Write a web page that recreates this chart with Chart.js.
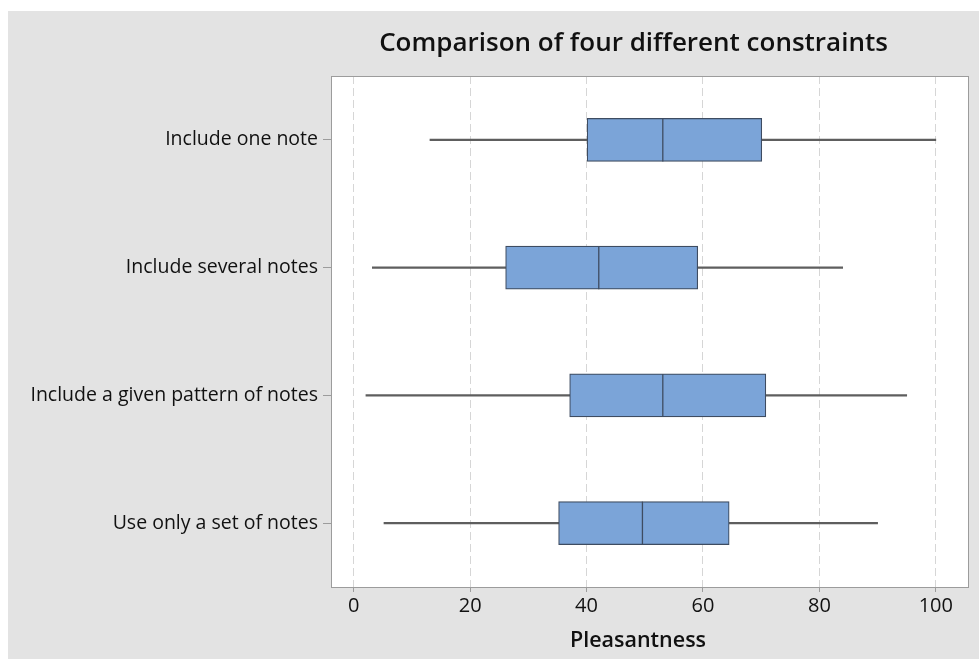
<!DOCTYPE html>
<html>
<head>
<meta charset="utf-8">
<script src="https://cdn.jsdelivr.net/npm/chart.js@4/dist/chart.umd.min.js"></script>
<style>
  html, body { margin: 0; padding: 0; background: #ffffff; width: 979px; height: 659px; overflow: hidden; }
  #frame { position: absolute; left: 8px; top: 11px; width: 971px; height: 648px; background: #e3e3e3; }
</style>
</head>
<body>
<div id="frame"><canvas id="chart"></canvas></div>
<script>
// Box-plot summaries of pleasantness ratings for each constraint
const categories = [
  'Include one note',
  'Include several notes',
  'Include a given pattern of notes',
  'Use only a set of notes'
];
const whiskerLow  = [13.1,  3.2,  2.1,  5.2];
const q1          = [40.1, 26.1, 37.1, 35.2];
const median      = [53.1, 42.1, 53.1, 49.6];
const q3          = [70.1, 59.1, 70.8, 64.5];
const whiskerHigh = [100.0, 84.0, 95.0, 90.0];
const xTicks = [0, 20, 40, 60, 80, 100];

const chartTitle = 'Comparison of four different constraints';
const axisTitle = 'Pleasantness';

const boxFill = '#7ba4d8';
const boxEdge = '#3e4c61';
const whiskerColor = '#5e5e5e';
const frameColor = '#9c9c9c';
const textColor = '#111111';
const fontFamily = '"Open Sans", "Noto Sans", sans-serif';

// White plotting region with a thin grey frame
const plotFrame = {
  id: 'plotFrame',
  beforeDraw(chart) {
    const { ctx, chartArea: a } = chart;
    ctx.save();
    ctx.fillStyle = '#ffffff';
    ctx.fillRect(a.left, a.top, a.right - a.left, a.bottom - a.top);
    ctx.restore();
  },
  afterDraw(chart) {
    const { ctx, chartArea: a } = chart;
    ctx.save();
    ctx.strokeStyle = frameColor;
    ctx.lineWidth = 1;
    ctx.strokeRect(Math.round(a.left) + 0.5, Math.round(a.top) + 0.5,
                   Math.round(a.right - a.left) - 1, Math.round(a.bottom - a.top));
    ctx.restore();
  }
};

// Median line across each box
const medianLines = {
  id: 'medianLines',
  afterDatasetsDraw(chart) {
    const { ctx } = chart;
    const xScale = chart.scales.x;
    const meta = chart.getDatasetMeta(0);
    ctx.save();
    ctx.strokeStyle = boxEdge;
    ctx.lineWidth = 1.3;
    meta.data.forEach((bar, i) => {
      const px = xScale.getPixelForValue(median[i]);
      const h = bar.height;
      ctx.beginPath();
      ctx.moveTo(px, bar.y - h / 2);
      ctx.lineTo(px, bar.y + h / 2);
      ctx.stroke();
    });
    ctx.restore();
  }
};

// Chart title and horizontal axis title
const headings = {
  id: 'headings',
  afterDraw(chart) {
    const { ctx, chartArea: a } = chart;
    const cx = (a.left + a.right) / 2;
    ctx.save();
    ctx.fillStyle = textColor;
    ctx.textAlign = 'center';
    ctx.textBaseline = 'alphabetic';
    ctx.font = '600 26px ' + fontFamily;
    ctx.fillText(chartTitle, cx - 16.5, a.top - 25.5);
    ctx.font = '600 21.5px ' + fontFamily;
    ctx.fillText(axisTitle, cx - 12, a.bottom + 60);
    ctx.restore();
  }
};

new Chart(document.getElementById('chart'), {
  type: 'bar',
  data: {
    labels: categories,
    datasets: [
      {
        label: 'Interquartile range',
        data: categories.map((_, i) => [q1[i], q3[i]]),
        backgroundColor: boxFill,
        borderColor: boxEdge,
        borderWidth: 1.2,
        borderSkipped: false,
        barThickness: 43,
        grouped: false,
        order: 0
      },
      {
        label: 'Whiskers',
        data: categories.map((_, i) => [whiskerLow[i], whiskerHigh[i]]),
        backgroundColor: whiskerColor,
        borderWidth: 0,
        barThickness: 1.5,
        grouped: false,
        order: 1
      }
    ]
  },
  options: {
    indexAxis: 'y',
    responsive: true,
    maintainAspectRatio: false,
    animation: false,
    events: [],
    layout: { padding: { left: 0, right: 10, top: 65, bottom: 0 } },
    plugins: {
      legend: { display: false },
      tooltip: { enabled: false },
      title: { display: false }
    },
    scales: {
      x: {
        type: 'linear',
        position: 'bottom',
        min: -3.9,
        max: 105.7,
        afterBuildTicks(scale) {
          scale.ticks = xTicks.map(v => ({ value: v }));
        },
        afterFit(scale) { scale.height = 72; },
        grid: {
          color: '#d6d6d6',
          lineWidth: 1,
          drawTicks: true,
          tickLength: 5,
          tickColor: frameColor,
          tickBorderDash: []
        },
        border: { display: false, dash: [8, 4] },
        ticks: {
          color: textColor,
          padding: 2,
          font: { family: fontFamily, size: 20 },
          maxRotation: 0
        }
      },
      y: {
        type: 'category',
        position: 'left',
        afterFit(scale) { scale.width = 323; },
        grid: {
          offset: false,
          drawOnChartArea: false,
          drawTicks: true,
          tickLength: 8,
          tickColor: frameColor,
          color: frameColor
        },
        border: { display: false },
        ticks: {
          color: textColor,
          padding: 5,
          font: { family: fontFamily, size: 19.5 }
        }
      }
    }
  },
  plugins: [plotFrame, medianLines, headings]
});
</script>
</body>
</html>
